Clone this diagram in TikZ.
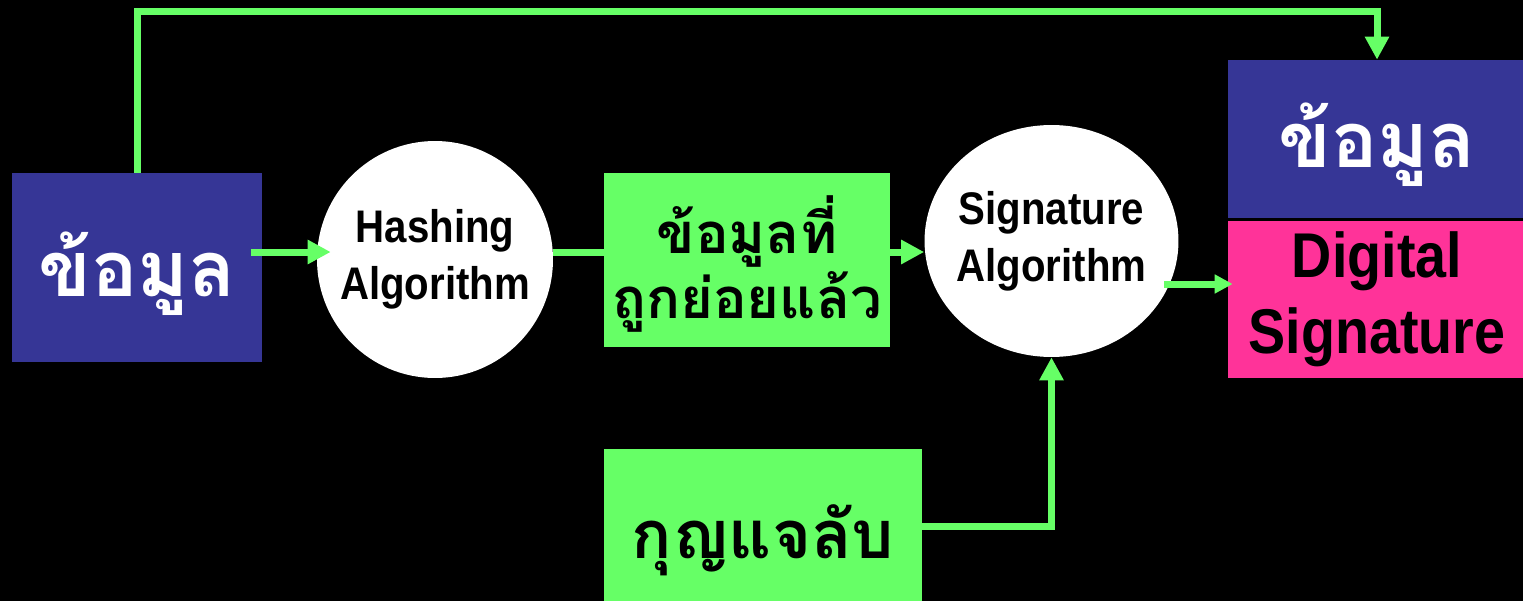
\documentclass[tikz,border=0pt]{standalone}
\usepackage{fontspec}
\setmainfont{Liberation Sans}
\newfontfamily\thaifont[Script=Thai]{Loma}
\newfontfamily\narrowfont[FakeStretch=0.88]{Liberation Sans Bold}
\usetikzlibrary{arrows.meta}
\usetikzlibrary{shapes.geometric}
\definecolor{dataBlue}{RGB}{54,54,150}
\definecolor{stepGreen}{RGB}{102,255,102}
\definecolor{signPink}{RGB}{255,51,153}

\begin{document}
\begin{tikzpicture}[x = 0.02cm, y = -0.02cm]
	\tikzstyle{boxStyle} = [shape = rectangle, inner sep = 0pt, align = center]
	\tikzstyle{algoStyle} = [shape = ellipse, inner sep = 0pt, fill = white]
	\tikzstyle{algoText} = [align = center, font = \fontsize{26}{32.3}\selectfont\narrowfont]
	\tikzstyle{thaiText} = [align = center, yshift = -0.12cm]
	\tikzstyle{linkStyle} = [draw = stepGreen, line width = 0.14cm]
	\tikzstyle{arrowStyle} = [linkStyle, -{Triangle[length = 0.46cm, width = 0.46cm]}]
	\tikzstyle{smallArrowStyle} = [linkStyle, -{Triangle[length = 0.36cm, width = 0.36cm]}]
	\clip (0, 0) rectangle (1523, 601);
	\fill[black] (0, 0) rectangle (1523, 601);
	% boxes and circles
	\node[boxStyle, fill = dataBlue, minimum width = 5cm, minimum height = 3.78cm, label = {[thaiText, text = white, font = \fontsize{44}{52}\selectfont\thaifont\bfseries]center:ข้อมูล}] (data) at (137, 267.5) {};
	\node[algoStyle, minimum width = 4.72cm, minimum height = 4.74cm, label = {[algoText]center:Hashing\\Algorithm}] (hash) at (435, 259.5) {};
	\node[boxStyle, fill = stepGreen, minimum width = 5.72cm, minimum height = 3.48cm, label = {[thaiText, yshift = 0.04cm, font = \fontsize{32}{37}\selectfont\thaifont\bfseries]center:ข้อมูลที่\\ถูกย่อยแล้ว}] (digest) at (747, 260) {};
	\node[algoStyle, minimum width = 5.08cm, minimum height = 4.64cm, label = {[algoText]center:Signature\\Algorithm}] (sign) at (1051.5, 241) {};
	\node[boxStyle, fill = stepGreen, minimum width = 6.36cm, minimum height = 3.42cm, label = {[thaiText, font = \fontsize{38}{44}\selectfont\thaifont\bfseries]center:กุญแจลับ}] (key) at (763, 534.5) {};
	\node[boxStyle, fill = dataBlue, minimum width = 5.96cm, minimum height = 3.16cm, label = {[thaiText, text = white, font = \fontsize{44}{52}\selectfont\thaifont\bfseries]center:ข้อมูล}] (outdata) at (1377, 139) {};
	\node[boxStyle, fill = signPink, minimum width = 5.96cm, minimum height = 3.14cm, label = {[align = center, font = \fontsize{36}{43}\selectfont\narrowfont]center:Digital\\Signature}] (outsign) at (1377, 299.5) {};
	% connectors
	\coordinate (topline) at (700, 12);
	\coordinate (signout) at ([yshift = 0.31cm]outsign.west);
	\draw[arrowStyle] (data.north) |- (topline) -| (outdata.north);
	\draw[arrowStyle, shorten > = -0.28cm] ([xshift = -0.22cm, yshift = 0.31cm]data.east) -- ([yshift = 0.31cm]data.east -| hash.west);
	\draw[linkStyle] ([yshift = 0.15cm]hash.east) -- ([yshift = 0.15cm]hash.east -| digest.west);
	\draw[arrowStyle] ([yshift = 0.16cm]digest.east) -- ([yshift = 0.16cm]digest.east -| sign.west);
	\draw[smallArrowStyle, shorten > = -0.1cm] ([xshift = -0.29cm]sign.east |- signout) -- (signout);
	\draw[arrowStyle] ([yshift = 0.17cm]key.east) -| (sign.south);
\end{tikzpicture}
\end{document}
